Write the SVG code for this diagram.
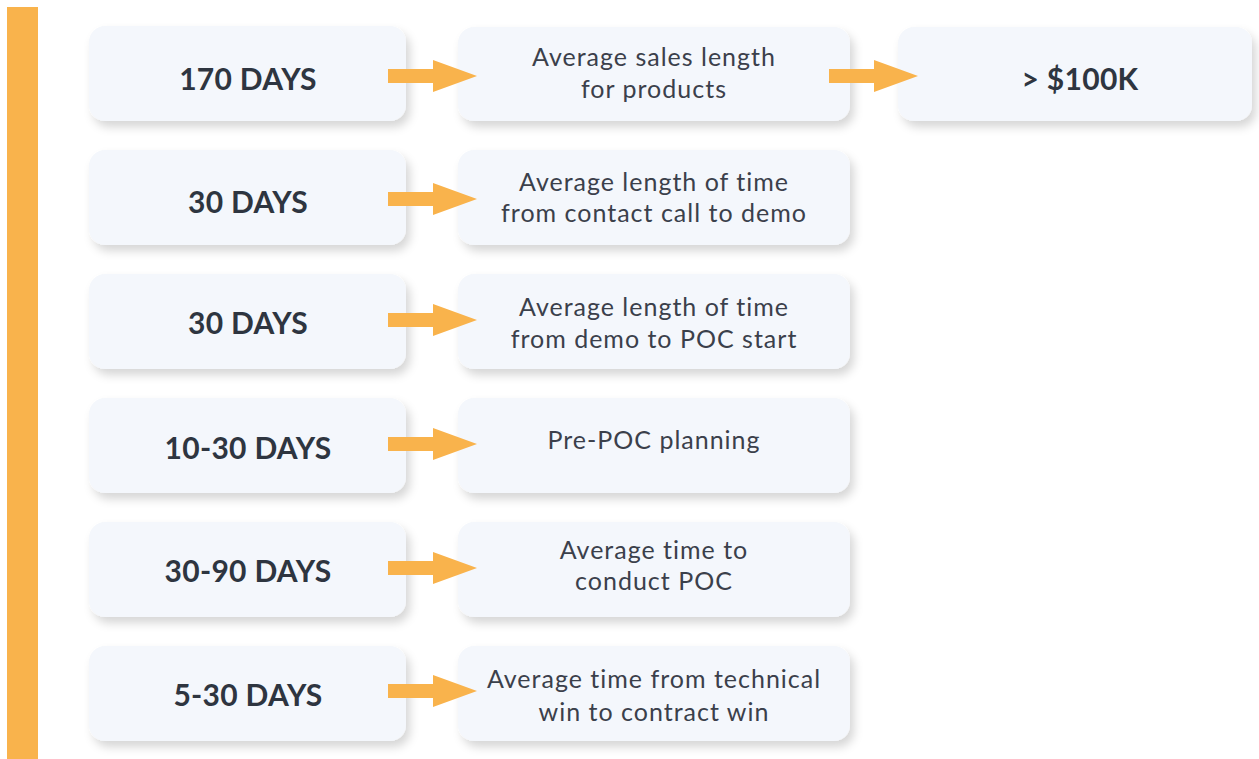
<svg xmlns="http://www.w3.org/2000/svg" width="1259" height="759" viewBox="0 0 1259 759">
<defs>
<filter id="sh" x="-10%" y="-20%" width="125%" height="150%">
<feDropShadow dx="4" dy="6" stdDeviation="5" flood-color="#000" flood-opacity="0.16"/>
</filter>
<path id="arr" d="M0,-7 H45 V-16 L89,0 L45,16 V7 H0 Z" fill="#f9b34c"/>
</defs>
<style>
.box{fill:#f4f7fc;filter:url(#sh)}
.b{font-family:Lato,"Liberation Sans",sans-serif;font-weight:700;font-size:30px;letter-spacing:0.3px;fill:#2e3540;text-anchor:middle}
.t{font-family:Lato,"Liberation Sans",sans-serif;font-weight:400;font-size:25px;letter-spacing:1px;fill:#3b404b;text-anchor:middle}
</style>
<rect x="7" y="7" width="31" height="752" fill="#f9b34c"/>
<g id="n1"><rect class="box" x="89" y="26" width="317" height="95" rx="16"/><text class="b" x="248" y="90">170 DAYS</text></g>
<g id="n1b"><rect class="box" x="458" y="27" width="392" height="94" rx="16"/><text class="t" x="654" y="66">Average sales length</text><text class="t" x="654" y="98">for products</text></g>
<g id="n1c"><rect class="box" x="898" y="27" width="354" height="94" rx="16"/><text class="b" x="1080" y="90">&gt; $100K</text></g>
<g id="n2"><rect class="box" x="89" y="150" width="317" height="95" rx="16"/><text class="b" x="248" y="213">30 DAYS</text></g>
<g id="n2b"><rect class="box" x="458" y="150" width="392" height="95" rx="16"/><text class="t" x="654" y="191">Average length of time</text><text class="t" x="654" y="222">from contact call to demo</text></g>
<g id="n3"><rect class="box" x="89" y="274" width="317" height="95" rx="16"/><text class="b" x="248" y="334">30 DAYS</text></g>
<g id="n3b"><rect class="box" x="458" y="274" width="392" height="95" rx="16"/><text class="t" x="654" y="316">Average length of time</text><text class="t" x="654" y="348">from demo to POC start</text></g>
<g id="n4"><rect class="box" x="89" y="398" width="317" height="95" rx="16"/><text class="b" x="248" y="459">10-30 DAYS</text></g>
<g id="n4b"><rect class="box" x="458" y="398" width="392" height="95" rx="16"/><text class="t" x="654" y="449">Pre-POC planning</text></g>
<g id="n5"><rect class="box" x="89" y="522" width="317" height="95" rx="16"/><text class="b" x="248" y="582">30-90 DAYS</text></g>
<g id="n5b"><rect class="box" x="458" y="522" width="392" height="95" rx="16"/><text class="t" x="654" y="559">Average time to</text><text class="t" x="654" y="590">conduct POC</text></g>
<g id="n6"><rect class="box" x="89" y="646" width="317" height="95" rx="16"/><text class="b" x="248" y="706">5-30 DAYS</text></g>
<g id="n6b"><rect class="box" x="458" y="646" width="392" height="95" rx="16"/><text class="t" x="654" y="688">Average time from technical</text><text class="t" x="654" y="721">win to contract win</text></g>
<g id="connectors">
<use href="#arr" x="388" y="76"/>
<use href="#arr" x="829" y="76"/>
<use href="#arr" x="388" y="199"/>
<use href="#arr" x="388" y="320"/>
<use href="#arr" x="388" y="444"/>
<use href="#arr" x="388" y="568"/>
<use href="#arr" x="388" y="691"/>
</g>
</svg>
